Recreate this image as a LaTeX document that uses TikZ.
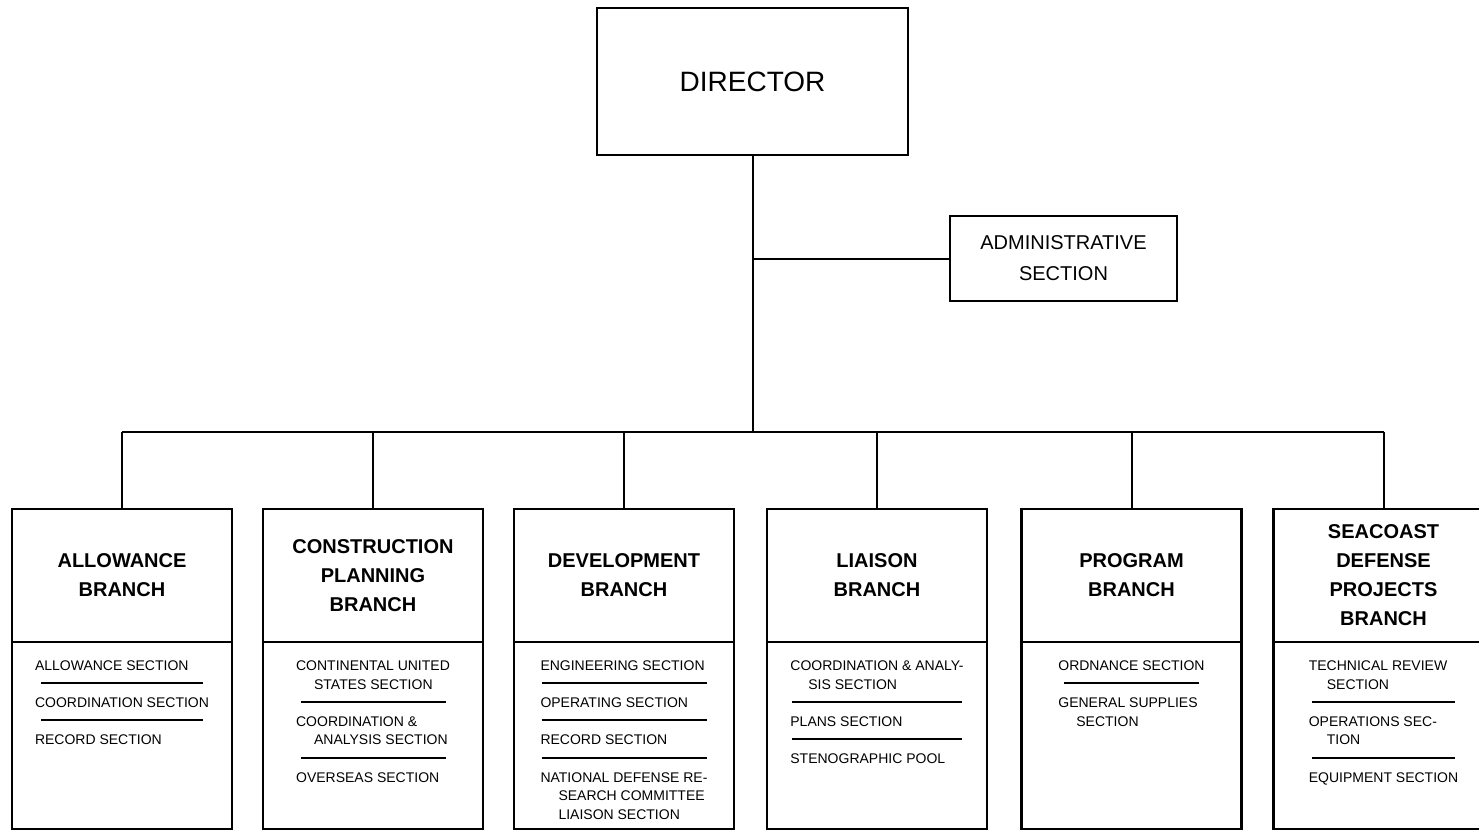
\documentclass[tikz,border=0pt]{standalone}
\usepackage{fontspec}
\setmainfont{Liberation Sans}
\usetikzlibrary{positioning}

\newcommand{\secind}{\hspace*{9pt}}
\newcommand{\secrule}[1]{\multicolumn{1}{@{}c@{}}{\rule[2.4pt]{#1}{1pt}}}

\tikzset{
  box/.style={draw, line width=1.4pt, outer sep=0pt, align=center},
  branch/.style={box, minimum width=110pt, minimum height=66.5pt, font=\fontsize{10}{14.5}\selectfont\bfseries},
  secbox/.style={box, minimum width=110pt, minimum height=93.5pt},
  sectext/.style={inner sep=0pt, font=\fontsize{7}{9.3}\selectfont},
  link/.style={line width=1pt}
}

\begin{document}
\begin{tikzpicture}[x=0.5pt, y=-0.5pt]
    \useasboundingbox (0,0) rectangle (1479,831);
    \node (dir) at (752.5,81.5) [box, minimum width=155.5pt, minimum height=73.5pt, font=\fontsize{14}{16}\selectfont] {DIRECTOR};
    \node (adm) at (1063.5,258.5) [box, minimum width=113.5pt, minimum height=42.5pt, font=\fontsize{10}{15.5}\selectfont] {ADMINISTRATIVE\\SECTION};

    % branch heads
    \node (al) at (122,575.5) [branch] {ALLOWANCE\\BRANCH};
    \node (cp) at (373,575.5) [branch] {CONSTRUCTION\\PLANNING\\BRANCH};
    \node (dv) at (624,575.5) [branch] {DEVELOPMENT\\BRANCH};
    \node (li) at (877,575.5) [branch] {LIAISON\\BRANCH};
    \node (pg) at (1131.5,575.5) [branch] {PROGRAM\\BRANCH};
    \node (sc) at (1383.5,575.5) [branch] {SEACOAST\\DEFENSE\\PROJECTS\\BRANCH};

    % section boxes
    \node (als) [secbox, below=0pt of al] {};
    \node (cps) [secbox, below=0pt of cp] {};
    \node (dvs) [secbox, below=0pt of dv] {};
    \node (lis) [secbox, below=0pt of li] {};
    \node (pgs) [secbox, below=0pt of pg] {};
    \node (scs) [secbox, below=0pt of sc] {};

    \node (alt) [sectext, below=7.5pt of als.north] {\begin{tabular}{@{}l@{}}
        ALLOWANCE SECTION\\ \secrule{81pt}\\
        COORDINATION SECTION\\ \secrule{81pt}\\
        RECORD SECTION
    \end{tabular}};
    \node (cpt) [sectext, below=7.5pt of cps.north] {\begin{tabular}{@{}l@{}}
        CONTINENTAL UNITED\\ \secind STATES SECTION\\ \secrule{72.5pt}\\
        COORDINATION \&\\ \secind ANALYSIS SECTION\\ \secrule{72.5pt}\\
        OVERSEAS SECTION
    \end{tabular}};
    \node (dvt) [sectext, below=7.5pt of dvs.north] {\begin{tabular}{@{}l@{}}
        ENGINEERING SECTION\\ \secrule{82.5pt}\\
        OPERATING SECTION\\ \secrule{82.5pt}\\
        RECORD SECTION\\ \secrule{82.5pt}\\
        NATIONAL DEFENSE RE-\\ \secind SEARCH COMMITTEE\\ \secind LIAISON SECTION
    \end{tabular}};
    \node (lit) [sectext, below=7.5pt of lis.north] {\begin{tabular}{@{}l@{}}
        COORDINATION \& ANALY-\\ \secind SIS SECTION\\ \secrule{85pt}\\
        PLANS SECTION\\ \secrule{85pt}\\
        STENOGRAPHIC POOL
    \end{tabular}};
    \node (pgt) [sectext, below=7.5pt of pgs.north] {\begin{tabular}{@{}l@{}}
        ORDNANCE SECTION\\ \secrule{67.5pt}\\
        GENERAL SUPPLIES\\ \secind SECTION
    \end{tabular}};
    \node (sct) [sectext, below=7.5pt of scs.north] {\begin{tabular}{@{}l@{}}
        TECHNICAL REVIEW\\ \secind SECTION\\ \secrule{71.5pt}\\
        OPERATIONS SEC-\\ \secind TION\\ \secrule{71.5pt}\\
        EQUIPMENT SECTION
    \end{tabular}};

    \coordinate (hub) at (752.5,432);
    \draw[link] (dir.south) -- (hub);
    \draw[link] (dir.south |- adm.west) -- (adm.west);
    \draw[link] (al.north |- hub) -- (sc.north |- hub);
    \foreach \b in {al,cp,dv,li,pg,sc}
        \draw[link] (\b.north |- hub) -- (\b.north);
\end{tikzpicture}
\end{document}
